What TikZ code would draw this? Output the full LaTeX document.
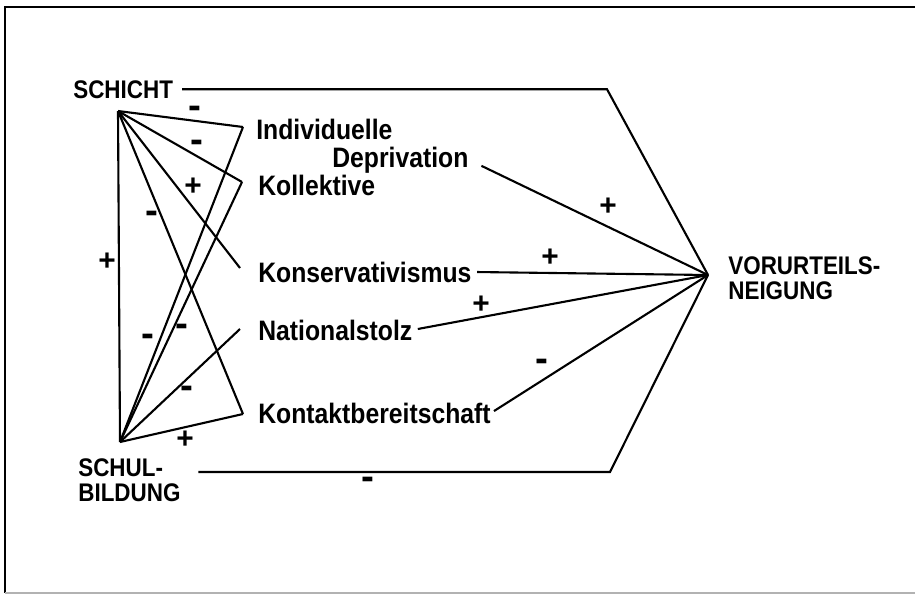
\documentclass[tikz,border=0pt]{standalone}
\usepackage{fontspec}
\setmainfont{Liberation Sans}
\newfontfamily\labfont[FakeStretch=0.88]{Liberation Sans}
\usepackage{tikz}

\tikzset{
  lab/.style={font=\labfont\bfseries\fontsize{16}{18}\selectfont, inner sep=0pt, anchor=base west},
  var/.style={font=\labfont\bfseries\fontsize{14.5}{14}\selectfont, inner sep=0pt, anchor=base west, align=left},
  plus/.style={font=\bfseries\fontsize{17}{17}\selectfont, inner sep=0pt},
  minus/.style={font=\bfseries\fontsize{22}{22}\selectfont, inner sep=0pt},
}

\begin{document}
\begin{tikzpicture}[x=0.02cm,y=-0.02cm]
    \useasboundingbox (0,0) rectangle (915,595);

    % Frame
    \draw[line width=1.6pt] (915,7) -- (5,7) -- (5,593);
    \draw[gray!60, thick] (5,593) -- (915,593);

    % Coordinates
    \coordinate (S) at (118,111);
    \coordinate (B) at (120,442);
    \coordinate (V) at (708,275);
    \coordinate (TC) at (607,88);
    \coordinate (BC) at (610,472);
    \coordinate (I) at (243,127);
    \coordinate (K) at (242,182);
    \coordinate (KV) at (240,268);
    \coordinate (NS) at (240,329);
    \coordinate (KB) at (243,414);

    % Labels
    \node[var] (schicht) at (73,98) {SCHICHT};
    \node[var] (bildung) at (78,501) {SCHUL-\\BILDUNG};
    \node[var] (vorurteil) at (728,299) {VORURTEILS-\\NEIGUNG};

    \node[lab] (indiv) at (256,139) {Individuelle};
    \node[lab] (depriv) at (332,167) {Deprivation};
    \node[lab] (kollek) at (258,195) {Kollektive};
    \node[lab] (konserv) at (258,282) {Konservativismus};
    \node[lab] (natstolz) at (258,340) {Nationalstolz};
    \node[lab] (kontakt) at (258,423) {Kontaktbereitschaft};

    % Paths from SCHICHT
    \draw[very thick] (S) -- (I);
    \draw[very thick] (S) -- (K);
    \draw[very thick] (S) -- (KV);
    \draw[very thick] (S) -- (KB);
    \draw[very thick] (S) -- (B);

    % Paths from SCHULBILDUNG
    \draw[very thick] (B) -- (I);
    \draw[very thick] (B) -- (K);
    \draw[very thick] (B) -- (NS);
    \draw[very thick] (B) -- (KB);

    % Paths to VORURTEILSNEIGUNG
    \draw[very thick,shorten <=5pt]
      (schicht.east) -- (schicht.east -| TC) -- (V);
    \draw[very thick,shorten <=10pt]
      (bildung.north east |- BC) -- (BC) -- (V);
    \draw[very thick,shorten <=8pt] (depriv.east) -- (V);
    \draw[very thick,shorten <=3pt] (konserv.east) -- (V);
    \draw[very thick,shorten <=3pt] (natstolz.east) -- (V);
    \draw[very thick,shorten <=2pt] (kontakt.east) -- (V);

    % Signs
    \node[minus] (s1) at (195,112) {-};
    \node[minus] (s2) at (197,146) {-};
    \node[plus] (s3) at (193,187) {+};
    \node[minus] (s4) at (152,217) {-};
    \node[plus] (s5) at (107,262) {+};
    \node[minus] (s6) at (148,340) {-};
    \node[minus] (s7) at (182,330) {-};
    \node[minus] (s8) at (187,392) {-};
    \node[plus] (s9) at (185,440) {+};
    \node[minus] (s10) at (368,483) {-};
    \node[plus] (s11) at (608,207) {+};
    \node[plus] (s12) at (550,258) {+};
    \node[plus] (s13) at (481,305) {+};
    \node[minus] (s14) at (542,365) {-};

\end{tikzpicture}
\end{document}
